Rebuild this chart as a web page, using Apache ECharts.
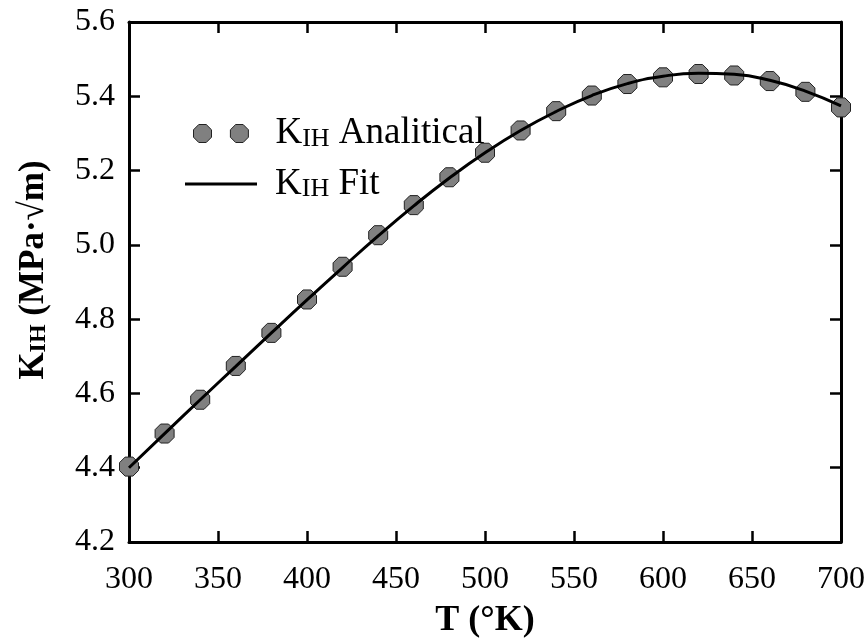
<!DOCTYPE html>
<html>
<head>
<meta charset="utf-8">
<script src="https://cdn.jsdelivr.net/npm/echarts@6/dist/echarts.min.js"></script>
<style>
html,body{margin:0;padding:0;background:#fff;}
#chart{width:868px;height:639px;}
</style>
</head>
<body>
<div id="chart"></div>
<script>
// Data
const temperatures = [300,320,340,360,380,400,420,440,460,480,500,520,540,560,580,600,620,640,660,680,700];
const analyticalK = [4.403,4.492,4.583,4.674,4.763,4.853,4.941,5.026,5.107,5.182,5.248,5.308,5.360,5.402,5.433,5.451,5.460,5.456,5.441,5.412,5.370];
const fitK = [4.400,4.492,4.583,4.673,4.763,4.852,4.939,5.024,5.105,5.180,5.248,5.308,5.359,5.402,5.434,5.454,5.462,5.459,5.443,5.414,5.374];
const xTicks = {min:300, max:700, interval:50};
const yTicks = {min:4.2, max:5.6, interval:0.2};

const FONT = '"Liberation Serif", "Times New Roman", serif';
const octagon = 'path://M5.86,0 L14.14,0 L20,5.86 L20,14.14 L14.14,20 L5.86,20 L0,14.14 L0,5.86 Z';
const twoOctagons = 'path://M5.86,0 L14.14,0 L20,5.86 L20,14.14 L14.14,20 L5.86,20 L0,14.14 L0,5.86 Z M46.86,0 L55.14,0 L61,5.86 L61,14.14 L55.14,20 L46.86,20 L41,14.14 L41,5.86 Z';

const subRich = (size, subSize, bold, subLH) => ({
  k: {fontSize: size, fontFamily: FONT, fontWeight: bold ? 'bold' : 'normal', color:'#000'},
  s: {fontSize: subSize, fontFamily: FONT, fontWeight: bold ? 'bold' : 'normal', color:'#000', verticalAlign:'bottom', lineHeight: subLH},
  t: {fontSize: size, fontFamily: FONT, fontWeight: bold ? 'bold' : 'normal', color:'#000'}
});

const axisLineStyle = {color:'#000', width:3};
const tickStyle = {show:true, inside:true, length:11, lineStyle:{color:'#000', width:2.5}};

const chart = echarts.init(document.getElementById('chart'), null, {renderer:'canvas'});
chart.setOption({
  backgroundColor:'#fff',
  animation:false,
  grid:{left:129, right:27, top:22, bottom:97, containLabel:false, outerBoundsMode:'none'},
  legend:[
    {
      left:193, top:115, padding:0, orient:'vertical',
      itemWidth:55, itemHeight:18,
      data:[{name:'Analitical', icon:twoOctagons, itemStyle:{color:'#808080', borderColor:'#222', borderWidth:1}}],
      formatter: () => '{k|K}{s|IH}{t| Analitical}',
      textStyle:{fontFamily:FONT, fontSize:37, color:'#000', padding:[0,0,0,22], rich: subRich(37, 26, false, 9)}
    },
    {
      left:185, top:165.5, padding:0, orient:'vertical',
      itemWidth:72, itemHeight:3,
      data:[{name:'Fit', icon:'path://M0,0 L72,0 L72,3 L0,3 Z', itemStyle:{color:'#000', borderWidth:0}}],
      formatter: () => '{k|K}{s|IH}{t| Fit}',
      textStyle:{fontFamily:FONT, fontSize:37, color:'#000', padding:[0,0,0,13], rich: subRich(37, 26, false, 9)}
    }
  ],
  xAxis:[
    {
      type:'value', position:'bottom', min:xTicks.min, max:xTicks.max, interval:xTicks.interval,
      name:'T (°K)', nameLocation:'middle', nameGap:61,
      nameTextStyle:{fontFamily:FONT, fontSize:36, fontWeight:'bold', color:'#000'},
      axisLine:{show:true, onZero:false, lineStyle:axisLineStyle},
      axisTick:tickStyle,
      axisLabel:{fontFamily:FONT, fontSize:32, color:'#000', margin:22},
      splitLine:{show:false}
    },
    {
      type:'value', position:'top', min:xTicks.min, max:xTicks.max, interval:xTicks.interval,
      axisLine:{show:true, onZero:false, lineStyle:axisLineStyle},
      axisTick:tickStyle, axisLabel:{show:false}, splitLine:{show:false}
    }
  ],
  yAxis:[
    {
      type:'value', position:'left', min:yTicks.min, max:yTicks.max, interval:yTicks.interval,
      name:'{k|K}{s|IH}{t| (MPa·√m)}', nameLocation:'middle', nameGap:78, nameRotate:90,
      nameTextStyle:{fontFamily:FONT, fontSize:35, fontWeight:'bold', color:'#000', padding:[0,0,0,24], rich: subRich(35, 24, true, 10)},
      axisLine:{show:true, onZero:false, lineStyle:axisLineStyle},
      axisTick:tickStyle,
      axisLabel:{fontFamily:FONT, fontSize:32, color:'#000', margin:14, formatter: v => v.toFixed(1)},
      splitLine:{show:false}
    },
    {
      type:'value', position:'right', min:yTicks.min, max:yTicks.max, interval:yTicks.interval,
      axisLine:{show:true, onZero:false, lineStyle:axisLineStyle},
      axisTick:tickStyle, axisLabel:{show:false}, splitLine:{show:false}
    }
  ],
  series:[
    {
      name:'Analitical', type:'scatter', xAxisIndex:0, yAxisIndex:0,
      symbol:octagon, symbolSize:19, z:2,
      itemStyle:{color:'#808080', borderColor:'#222', borderWidth:1, opacity:1},
      data: temperatures.map((t,i) => [t, analyticalK[i]])
    },
    {
      name:'Fit', type:'line', xAxisIndex:0, yAxisIndex:0,
      smooth:true, symbol:'none', z:3,
      lineStyle:{color:'#000', width:3},
      data: temperatures.map((t,i) => [t, fitK[i]])
    }
  ]
});
</script>
</body>
</html>
